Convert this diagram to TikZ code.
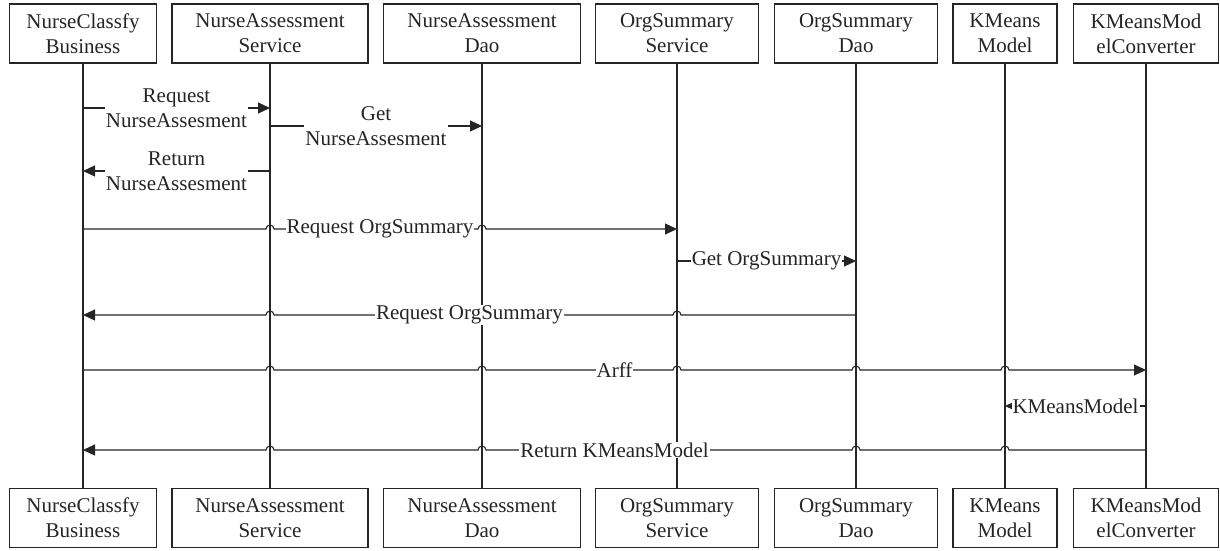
\documentclass[tikz,border=0pt]{standalone}
\usepackage{fontspec}
\setmainfont{Liberation Serif}
\usetikzlibrary{arrows.meta,calc}
\definecolor{ink}{RGB}{38,36,36}
\begin{document}
\begin{tikzpicture}[x=1pt,y=1pt,
  box/.style={draw=ink,line width=1.1pt,align=center,inner sep=0pt,minimum height=59pt,
    font=\fontsize{21}{25}\selectfont,text=ink},
  life/.style={draw=ink,line width=1.1pt},
  msg/.style={draw=ink,line width=1.1pt},
  arr/.style={msg,-{Triangle[length=12pt,width=11pt]}},
  lbl/.style={fill=white,inner xsep=1pt,inner ysep=0.5pt,align=center,
    font=\fontsize{21}{25}\selectfont,text=ink}]
\useasboundingbox (0,0) rectangle (1220,-550);
% top boxes
\node[box,minimum width=147pt] (t1) at (83,-33.5) {NurseClassfy\\Business};
\node[box,minimum width=196pt] (t2) at (270,-33.5) {NurseAssessment\\Service};
\node[box,minimum width=197pt] (t3) at (482,-33.5) {NurseAssessment\\Dao};
\node[box,minimum width=163pt] (t4) at (677,-33.5) {OrgSummary\\Service};
\node[box,minimum width=163pt] (t5) at (856,-33.5) {OrgSummary\\Dao};
\node[box,minimum width=104pt] (t6) at (1005,-33.5) {KMeans\\Model};
\node[box,minimum width=145pt] (t7) at (1146,-33.5) {KMeansMod\\elConverter};
% bottom boxes
\node[box,minimum width=147pt] (b1) at (83,-518) {NurseClassfy\\Business};
\node[box,minimum width=196pt] (b2) at (270,-518) {NurseAssessment\\Service};
\node[box,minimum width=197pt] (b3) at (482,-518) {NurseAssessment\\Dao};
\node[box,minimum width=163pt] (b4) at (677,-518) {OrgSummary\\Service};
\node[box,minimum width=163pt] (b5) at (856,-518) {OrgSummary\\Dao};
\node[box,minimum width=104pt] (b6) at (1005,-518) {KMeans\\Model};
\node[box,minimum width=145pt] (b7) at (1146,-518) {KMeansMod\\elConverter};
% lifelines
\foreach \i in {1,...,7}{\draw[life] (t\i.south) -- (b\i.north);}
% message end points
\coordinate (s1) at (t1 |- 0,-108); \coordinate (e1) at (t2 |- 0,-108);
\coordinate (s2) at (t2 |- 0,-126); \coordinate (e2) at (t3 |- 0,-126);
\coordinate (s3) at (t2 |- 0,-171); \coordinate (e3) at (t1 |- 0,-171);
\coordinate (s4) at (t1 |- 0,-229); \coordinate (e4) at (t4 |- 0,-229);
\coordinate (s5) at (t4 |- 0,-261); \coordinate (e5) at (t5 |- 0,-261);
\coordinate (s6) at (t5 |- 0,-315); \coordinate (e6) at (t1 |- 0,-315);
\coordinate (s7) at (t1 |- 0,-370); \coordinate (e7) at (t7 |- 0,-370);
\coordinate (s8) at (t7 |- 0,-406); \coordinate (e8) at (t6 |- 0,-406);
\coordinate (s9) at (t7 |- 0,-450); \coordinate (e9) at (t1 |- 0,-450);
% messages
\draw[arr] (s1) -- (e1);
\draw[arr] (s2) -- (e2);
\draw[arr] (s3) -- (e3);
\draw[arr] (s4) -- ($(s4 -| t2)+(-4,0)$) arc[start angle=180,end angle=0,radius=4pt]
  -- ($(s4 -| t3)+(-4,0)$) arc[start angle=180,end angle=0,radius=4pt] -- (e4);
\draw[arr] (s5) -- (e5);
\draw[arr] (s6) -- ($(s6 -| t4)+(4,0)$) arc[start angle=0,end angle=180,radius=4pt]
  -- ($(s6 -| t2)+(4,0)$) arc[start angle=0,end angle=180,radius=4pt] -- (e6);
\draw[arr] (s7) -- ($(s7 -| t2)+(-4,0)$) arc[start angle=180,end angle=0,radius=4pt]
  -- ($(s7 -| t3)+(-4,0)$) arc[start angle=180,end angle=0,radius=4pt]
  -- ($(s7 -| t4)+(-4,0)$) arc[start angle=180,end angle=0,radius=4pt]
  -- ($(s7 -| t5)+(-4,0)$) arc[start angle=180,end angle=0,radius=4pt]
  -- ($(s7 -| t6)+(-4,0)$) arc[start angle=180,end angle=0,radius=4pt] -- (e7);
\draw[arr] (s8) -- (e8);
\draw[arr] (s9) -- ($(s9 -| t6)+(4,0)$) arc[start angle=0,end angle=180,radius=4pt]
  -- ($(s9 -| t5)+(4,0)$) arc[start angle=0,end angle=180,radius=4pt]
  -- ($(s9 -| t3)+(4,0)$) arc[start angle=0,end angle=180,radius=4pt]
  -- ($(s9 -| t2)+(4,0)$) arc[start angle=0,end angle=180,radius=4pt] -- (e9);
% labels
\node[lbl] (l1) at ($(s1)!0.5!(e1)$) {Request\\NurseAssesment};
\node[lbl] (l2) at ($(s2)!0.5!(e2)$) {Get\\NurseAssesment};
\node[lbl] (l3) at ($(s3)!0.5!(e3)$) {Return\\NurseAssesment};
\node[lbl] (l4) at ($(s4)!0.5!(e4)$) {Request OrgSummary};
\node[lbl] (l5) at ($(s5)!0.5!(e5)$) {Get OrgSummary};
\node[lbl] (l6) at ($(s6)!0.5!(e6)$) {Request OrgSummary};
\node[lbl] (l7) at ($(s7)!0.5!(e7)$) {Arff};
\node[lbl] (l8) at ($(s8)!0.5!(e8)$) {KMeansModel};
\node[lbl] (l9) at ($(s9)!0.5!(e9)$) {Return KMeansModel};
\end{tikzpicture}
\end{document}
